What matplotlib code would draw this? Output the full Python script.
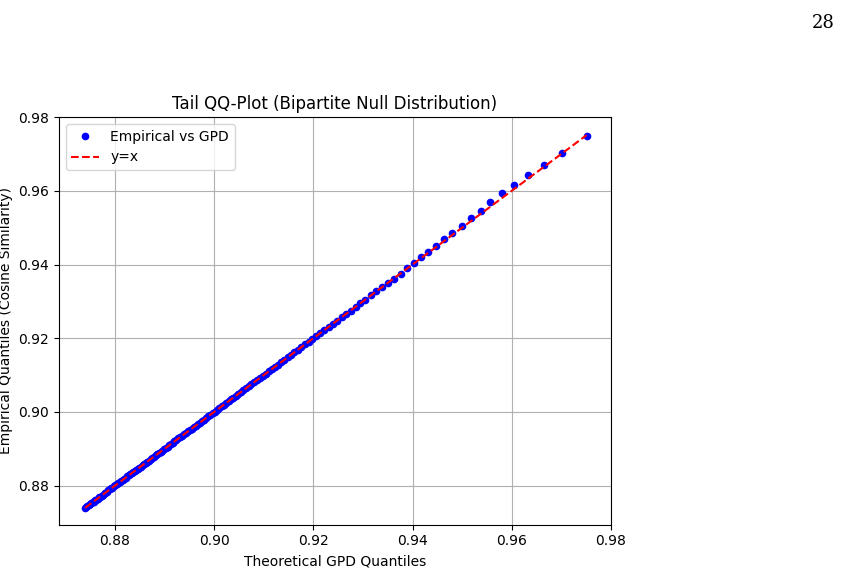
import matplotlib.pyplot as plt

# dense body of the tail (points sit on y=x)
body = [0.8740, 0.8742, 0.8744, 0.8747, 0.8749, 0.8752, 0.8755, 0.8757, 0.8760, 0.8762,
        0.8765, 0.8768, 0.8770, 0.8773, 0.8776, 0.8779, 0.8781, 0.8784, 0.8787, 0.8790,
        0.8793, 0.8795, 0.8798, 0.8801, 0.8804, 0.8807, 0.8810, 0.8813, 0.8816, 0.8819,
        0.8822, 0.8825, 0.8828, 0.8831, 0.8834, 0.8837, 0.8840, 0.8843, 0.8846, 0.8849,
        0.8852, 0.8856, 0.8859, 0.8862, 0.8865, 0.8868, 0.8872, 0.8875, 0.8878, 0.8882,
        0.8885, 0.8888, 0.8892, 0.8895, 0.8899, 0.8902, 0.8906, 0.8909, 0.8913, 0.8917,
        0.8920, 0.8924, 0.8928, 0.8931, 0.8935, 0.8939, 0.8943, 0.8947, 0.8951, 0.8955,
        0.8959, 0.8963, 0.8967, 0.8971, 0.8975, 0.8979, 0.8984, 0.8988, 0.8992, 0.8997,
        0.9001, 0.9006, 0.9010, 0.9015, 0.9019, 0.9024, 0.9029, 0.9034, 0.9039, 0.9044,
        0.9049, 0.9054, 0.9059, 0.9064, 0.9070, 0.9075, 0.9081, 0.9086, 0.9092, 0.9098,
        0.9104, 0.9110, 0.9116, 0.9122, 0.9128, 0.9135, 0.9141, 0.9148, 0.9155, 0.9162,
        0.9169, 0.9176, 0.9183, 0.9191, 0.9198, 0.9206, 0.9214, 0.9222, 0.9231, 0.9239,
        0.9248, 0.9257, 0.9266, 0.9275, 0.9285, 0.9295, 0.9305, 0.9316, 0.9327, 0.9338,
        0.9350, 0.9362]

# upper tail, read point by point
tail_theo = [0.9377, 0.9389, 0.9403, 0.9418, 0.9432, 0.9447, 0.9464, 0.9480, 0.9499,
             0.9517, 0.9537, 0.9557, 0.9581, 0.9604, 0.9633, 0.9664, 0.9701, 0.9751]
tail_emp = [0.9375, 0.9390, 0.9404, 0.9419, 0.9434, 0.9451, 0.9469, 0.9486, 0.9505,
            0.9526, 0.9546, 0.9569, 0.9593, 0.9616, 0.9643, 0.9670, 0.9703, 0.9749]

theoretical = body + tail_theo
empirical = body + tail_emp

fig = plt.figure(figsize=(8.41, 5.71), dpi=100)
ax = fig.add_axes([0.070, 0.081, 0.6565, 0.714])
ax.plot(theoretical, empirical, 'o', color='blue', markersize=4.5, label='Empirical vs GPD')
lo, hi = min(theoretical), max(theoretical)
ax.plot([lo, hi], [lo, hi], 'r--', label='y=x')
ax.set_xlim(0.8687, 0.98)
ax.set_ylim(0.8694, 0.98)
ax.set_xticks([0.88, 0.90, 0.92, 0.94, 0.96, 0.98])
ax.set_yticks([0.88, 0.90, 0.92, 0.94, 0.96, 0.98])
ax.grid(True)
ax.set_xlabel('Theoretical GPD Quantiles')
ax.set_ylabel('Empirical Quantiles (Cosine Similarity)')
ax.set_title('Tail QQ-Plot (Bipartite Null Distribution)')
ax.legend(loc='upper left')

fig.text(0.993, 0.975, '28', ha='right', va='top', fontsize=13, family='DejaVu Serif')

fig.savefig('out.png')
